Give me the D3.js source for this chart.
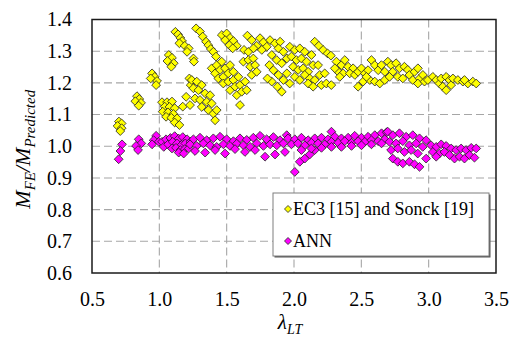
<!DOCTYPE html>
<html>
<head>
<meta charset="utf-8">
<script src="https://cdn.jsdelivr.net/npm/d3@7"></script>
<style>
  body { margin: 0; background: #fff; }
  svg text { font-family: "Liberation Serif"; }
</style>
</head>
<body>
<div id="chart"></div>
<script>
// tick values
const xTicks = [0.5, 1.0, 1.5, 2.0, 2.5, 3.0, 3.5];
const yTicks = [0.6, 0.7, 0.8, 0.9, 1.0, 1.1, 1.2, 1.3, 1.4];

const seriesNames = ['EC3 [15] and Sonck [19]', 'ANN'];

// [lambda_LT, M_FE / M_Predicted]
const ec3Points = [
  [0.70, 1.078], [0.72, 1.072], [0.69, 1.064], [0.72, 1.057], [0.71, 1.048],
  [0.834, 1.158], [0.851, 1.149], [0.822, 1.142], [0.864, 1.137], [0.847, 1.128],
  [0.946, 1.230], [0.966, 1.219], [0.936, 1.214], [0.983, 1.206], [0.976, 1.193],
  [1.07, 1.288], [1.094, 1.279], [1.06, 1.269], [1.107, 1.262], [1.089, 1.251],
  [1.119, 1.361], [1.139, 1.353], [1.156, 1.342], [1.169, 1.332], [1.149, 1.325],
  [1.189, 1.317], [1.218, 1.309], [1.206, 1.298],
  [1.223, 1.214], [1.233, 1.193],
  [1.020, 1.139], [1.057, 1.139], [1.094, 1.141], [1.040, 1.125], [1.075, 1.124],
  [1.114, 1.120], [1.025, 1.109], [1.064, 1.107], [1.104, 1.102], [1.050, 1.093],
  [1.089, 1.090], [1.132, 1.088], [1.114, 1.075], [1.149, 1.067], [1.174, 1.125],
  [1.199, 1.156],
  [1.273, 1.372], [1.302, 1.362], [1.322, 1.346], [1.347, 1.330], [1.364, 1.319],
  [1.382, 1.307], [1.401, 1.298], [1.421, 1.283], [1.253, 1.277], [1.257, 1.267],
  [1.464, 1.351], [1.500, 1.356], [1.525, 1.342], [1.488, 1.335], [1.550, 1.332],
  [1.520, 1.319], [1.575, 1.317], [1.545, 1.309],
  [1.654, 1.349], [1.686, 1.335], [1.748, 1.341], [1.773, 1.328], [1.723, 1.317],
  [1.798, 1.314], [1.629, 1.304], [1.661, 1.298], [1.699, 1.309], [1.761, 1.304],
  [1.822, 1.335], [1.859, 1.325], [1.897, 1.330], [1.884, 1.309], [1.921, 1.298],
  [1.835, 1.288], [1.872, 1.272], [1.909, 1.262], [1.947, 1.277], [1.817, 1.256],
  [1.847, 1.240], [1.884, 1.225], [1.921, 1.209], [1.835, 1.204], [1.877, 1.188],
  [1.909, 1.172], [1.947, 1.230], [1.803, 1.214],
  [1.389, 1.246], [1.426, 1.256], [1.463, 1.267], [1.414, 1.230], [1.451, 1.241],
  [1.488, 1.246], [1.525, 1.256], [1.438, 1.214], [1.475, 1.219], [1.512, 1.230],
  [1.550, 1.235], [1.475, 1.198], [1.512, 1.204], [1.550, 1.209], [1.587, 1.219],
  [1.525, 1.177], [1.562, 1.188], [1.599, 1.193], [1.637, 1.204], [1.575, 1.161],
  [1.612, 1.172], [1.649, 1.177], [1.599, 1.130], [1.624, 1.267], [1.661, 1.272],
  [1.698, 1.277], [1.674, 1.251], [1.711, 1.256], [1.686, 1.225], [1.723, 1.235],
  [1.241, 1.209], [1.278, 1.204], [1.315, 1.193], [1.253, 1.183], [1.290, 1.177],
  [1.340, 1.167], [1.377, 1.161], [1.265, 1.151], [1.302, 1.146], [1.352, 1.140],
  [1.389, 1.135], [1.315, 1.124], [1.364, 1.114], [1.401, 1.103], [1.426, 1.114],
  [1.414, 1.082], [1.228, 1.130],
  [1.969, 1.314], [2.006, 1.304], [2.043, 1.309], [2.080, 1.298], [1.981, 1.283],
  [2.018, 1.272], [2.055, 1.277], [2.093, 1.267], [2.130, 1.288], [1.993, 1.251],
  [2.031, 1.241], [2.068, 1.246], [2.105, 1.235], [2.142, 1.256], [2.179, 1.256],
  [2.006, 1.219], [2.043, 1.209], [2.080, 1.225], [2.117, 1.214], [2.154, 1.209],
  [2.191, 1.225], [2.228, 1.230], [2.203, 1.193], [2.240, 1.198], [2.277, 1.193],
  [2.105, 1.198], [2.142, 1.188], [2.154, 1.330], [2.184, 1.317], [2.216, 1.304],
  [2.249, 1.293], [2.274, 1.286], [1.968, 1.198],
  [2.315, 1.267], [2.352, 1.256], [2.377, 1.272], [2.402, 1.251], [2.439, 1.246],
  [2.328, 1.235], [2.365, 1.230], [2.414, 1.230], [2.452, 1.225], [2.476, 1.235],
  [2.501, 1.246], [2.526, 1.230], [2.550, 1.240], [2.575, 1.272], [2.600, 1.256],
  [2.625, 1.240], [2.649, 1.256], [2.674, 1.235], [2.476, 1.188], [2.513, 1.204],
  [2.563, 1.209], [2.600, 1.204], [2.637, 1.198], [2.674, 1.209], [2.538, 1.219],
  [2.340, 1.219], [2.303, 1.246],
  [2.697, 1.267], [2.721, 1.256], [2.758, 1.262], [2.733, 1.235], [2.783, 1.246],
  [2.820, 1.251], [2.845, 1.241], [2.709, 1.219], [2.771, 1.219], [2.808, 1.214],
  [2.857, 1.225], [2.895, 1.235], [2.920, 1.246], [2.882, 1.209], [2.932, 1.214],
  [2.957, 1.225], [2.920, 1.198], [2.969, 1.204], [2.994, 1.209], [3.031, 1.219],
  [3.056, 1.209], [3.080, 1.198], [3.105, 1.188], [3.093, 1.214], [3.130, 1.219],
  [3.155, 1.209], [3.167, 1.193], [3.180, 1.214], [3.217, 1.209], [3.254, 1.204],
  [3.291, 1.198], [3.328, 1.204], [3.353, 1.198], [3.266, 1.209], [3.130, 1.177]
];

const annPoints = [
  [0.723, 1.006], [0.711, 0.985], [0.698, 0.959],
  [0.847, 1.022], [0.866, 1.009], [0.827, 1.001], [0.842, 0.988],
  [0.976, 1.033], [0.958, 1.019], [0.996, 1.014], [0.946, 1.006],
  [1.020, 1.014], [1.050, 1.022], [1.082, 1.026], [1.114, 1.032], [1.144, 1.024],
  [1.174, 1.029], [1.206, 1.022], [1.033, 0.998], [1.065, 1.006], [1.099, 1.014],
  [1.132, 1.009], [1.164, 1.004], [1.193, 1.009], [1.231, 1.014], [1.094, 0.993],
  [1.124, 0.995], [1.156, 0.988], [1.189, 0.991], [1.218, 0.993], [1.144, 0.980],
  [1.181, 0.977],
  [1.253, 1.022], [1.302, 1.027], [1.352, 1.019], [1.401, 1.025], [1.451, 1.030],
  [1.500, 1.022], [1.550, 1.016], [1.599, 1.025], [1.649, 1.020], [1.698, 1.027],
  [1.748, 1.033], [1.797, 1.022], [1.847, 1.029], [1.896, 1.019], [1.946, 1.035],
  [1.228, 1.006], [1.278, 1.001], [1.327, 1.009], [1.377, 1.003], [1.426, 0.998],
  [1.476, 1.006], [1.525, 1.001], [1.575, 1.008], [1.624, 1.003], [1.674, 0.998],
  [1.723, 1.009], [1.773, 1.001], [1.822, 1.006], [1.872, 1.003], [1.921, 1.009],
  [1.265, 0.985], [1.340, 0.980], [1.414, 0.988], [1.488, 0.977], [1.562, 0.991],
  [1.636, 0.982], [1.711, 0.988], [1.785, 0.967], [1.859, 0.974], [1.933, 0.982],
  [2.278, 1.046],
  [2.006, 0.919], [2.043, 0.951], [2.080, 0.961], [2.117, 0.974], [2.154, 0.988],
  [1.956, 1.025], [2.006, 1.022], [2.055, 1.027], [2.105, 1.019], [2.154, 1.025],
  [2.204, 1.027], [2.253, 1.022], [2.303, 1.030], [2.352, 1.025], [2.402, 1.027],
  [2.451, 1.033], [2.501, 1.027], [2.550, 1.030], [2.600, 1.035], [2.650, 1.041],
  [2.687, 1.044],
  [1.981, 1.006], [2.030, 1.009], [2.080, 1.003], [2.129, 1.011], [2.179, 1.009],
  [2.228, 1.006], [2.278, 1.014], [2.328, 1.011], [2.377, 1.016], [2.427, 1.011],
  [2.476, 1.016], [2.526, 1.014], [2.575, 1.019], [2.625, 1.016], [2.674, 1.022],
  [2.055, 0.988], [2.129, 0.993], [2.204, 0.995], [2.278, 0.998], [2.352, 0.998],
  [2.427, 1.001], [2.501, 1.003], [2.575, 1.006], [2.650, 1.009],
  [2.734, 0.961], [2.771, 0.951], [2.808, 0.946], [2.857, 0.951], [2.895, 0.943],
  [2.932, 0.935],
  [2.696, 1.046], [2.734, 1.035], [2.783, 1.041], [2.833, 1.030], [2.882, 1.035],
  [2.932, 1.025], [2.981, 1.019], [2.709, 1.014], [2.758, 1.009], [2.808, 1.016],
  [2.857, 1.003], [2.907, 1.009], [2.956, 0.998], [2.721, 0.988], [2.771, 0.993],
  [2.820, 0.982], [2.870, 0.988], [2.919, 0.977],
  [3.018, 1.003], [3.056, 0.998], [3.093, 1.006], [3.130, 1.001], [3.167, 0.993],
  [3.204, 0.988], [3.241, 0.993], [3.278, 0.988], [3.316, 0.995], [3.353, 0.993],
  [3.031, 0.982], [3.080, 0.977], [3.117, 0.982], [3.155, 0.972], [3.192, 0.961],
  [3.229, 0.967], [3.266, 0.961], [3.303, 0.972], [3.340, 0.964], [3.056, 0.967],
  [2.981, 0.961]
];

const colors = ['#ffff00', '#ff00ff'];
const serif = '"Liberation Serif"';

const margin = { top: 19.5, right: 14, bottom: 69, left: 92 };
const width = 510 - margin.left - margin.right;
const height = 342 - margin.top - margin.bottom;

function draw() {
  d3.select('#chart svg').remove();
  const svg = d3.select('#chart').append('svg')
    .attr('width', 510)
    .attr('height', 342);

  const g = svg.append('g')
    .attr('transform', `translate(${margin.left},${margin.top})`);

  const x = d3.scaleLinear().domain([0.5, 3.5]).range([0, width]);
  const y = d3.scaleLinear().domain([0.6, 1.4]).range([height, 0]);

  const gridLayer = g.append('g');
  const markLayer = g.append('g');

  // tick labels
  const yAxis = g.append('g')
    .call(d3.axisLeft(y).tickValues(yTicks).tickSize(0).tickPadding(20).tickFormat(d3.format('.1f')));
  yAxis.select('.domain').remove();
  yAxis.attr('font-family', null);
  yAxis.selectAll('text').style('font-family', serif).style('font-size', '20px');

  const xAxis = g.append('g')
    .attr('transform', `translate(0,${height})`)
    .call(d3.axisBottom(x).tickValues(xTicks).tickSize(0).tickPadding(19).tickFormat(d3.format('.1f')));
  xAxis.select('.domain').remove();
  xAxis.attr('font-family', null);
  xAxis.selectAll('text').style('font-family', serif).style('font-size', '20px');

  // axis titles
  const xt = svg.append('text')
    .attr('x', margin.left + width / 2 - 4)
    .attr('y', 329)
    .attr('text-anchor', 'middle')
    .style('font-family', serif)
    .style('font-size', '21px')
    .style('font-style', 'italic');
  xt.append('tspan').text('λ');
  xt.append('tspan').attr('dy', 5).style('font-size', '14px').text('LT');

  const yt = svg.append('text')
    .attr('transform', `translate(30,${margin.top + height / 2 + 3}) rotate(-90)`)
    .attr('text-anchor', 'middle')
    .style('font-family', serif)
    .style('font-size', '22px')
    .style('font-style', 'italic');
  yt.append('tspan').text('M');
  yt.append('tspan').attr('dy', 5).style('font-size', '15px').text('FE');
  yt.append('tspan').attr('dy', -5).text('/M');
  yt.append('tspan').attr('dy', 5).style('font-size', '15px').text('Predicted');

  // dashed grid
  gridLayer.selectAll('.vgrid')
    .data(xTicks.slice(1, -1))
    .enter().append('line')
    .attr('x1', d => x(d)).attr('x2', d => x(d))
    .attr('y1', 0).attr('y2', height)
    .attr('stroke', '#a6a6a6')
    .attr('stroke-width', 1.1)
    .attr('stroke-dasharray', '8,4');

  gridLayer.selectAll('.hgrid')
    .data(yTicks.slice(1, -1))
    .enter().append('line')
    .attr('x1', 0).attr('x2', width)
    .attr('y1', d => y(d)).attr('y2', d => y(d))
    .attr('stroke', '#a6a6a6')
    .attr('stroke-width', 1.1)
    .attr('stroke-dasharray', '8,4');

  const diamond = r => `M0,${-r}L${r},0L0,${r}L${-r},0Z`;

  [ec3Points, annPoints].forEach((pts, i) => {
    markLayer.append('g').selectAll('path')
      .data(pts)
      .enter().append('path')
      .attr('d', diamond(4.4))
      .attr('transform', d => `translate(${x(d[0])},${y(d[1])})`)
      .attr('fill', colors[i])
      .attr('stroke', '#222')
      .attr('stroke-width', 0.8);
  });

  // legend
  const lg = svg.append('g').attr('transform', 'translate(273,193)');
  lg.append('rect')
    .attr('x', 1.5).attr('y', 1.5)
    .attr('width', 216).attr('height', 63)
    .attr('fill', '#555');
  lg.append('rect')
    .attr('width', 216).attr('height', 63)
    .attr('fill', '#fff')
    .attr('stroke', '#7f7f7f')
    .attr('stroke-width', 1);

  seriesNames.forEach((name, i) => {
    const row = lg.append('g').attr('transform', `translate(15,${16 + i * 32})`);
    row.append('path')
      .attr('d', diamond(3.5))
      .attr('fill', colors[i])
      .attr('stroke', '#222')
      .attr('stroke-width', 0.8);
    row.append('text')
      .attr('x', 5)
      .attr('y', 6)
      .style('font-family', serif)
      .style('font-size', '18px')
      .text(name);
  });

  // plot frame
  g.append('rect')
    .attr('width', width).attr('height', height)
    .attr('fill', 'none')
    .attr('stroke', '#1a1a1a')
    .attr('stroke-width', 1.5);
}

draw();
// redraw once the serif face is ready
if (document.fonts && document.fonts.load) {
  document.fonts.load('20px "Liberation Serif"').then(draw);
}
</script>
</body>
</html>
